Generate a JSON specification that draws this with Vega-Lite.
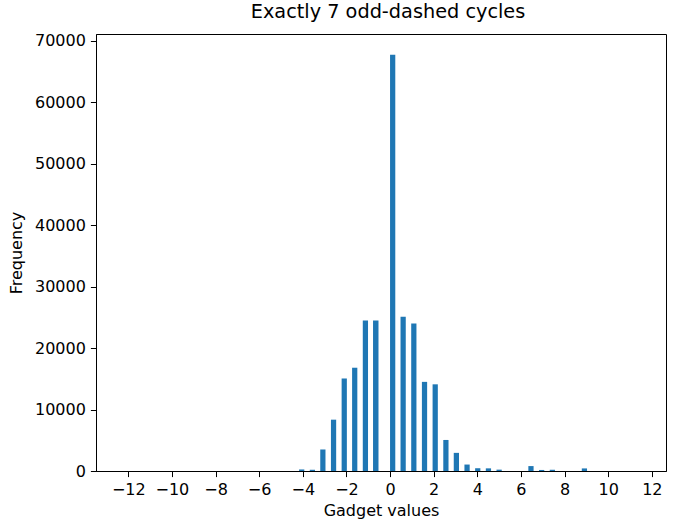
{
  "$schema": "https://vega.github.io/schema/vega-lite/v6.json",
  "width": 570,
  "height": 437,
  "autosize": {"type": "none"},
  "padding": {"left": 96, "top": 34, "right": 14, "bottom": 49},
  "background": "white",
  "title": {"text": "Exactly 7 odd-dashed cycles", "fontSize": 19.3, "fontWeight": "normal", "font": "DejaVu Sans", "color": "#000", "offset": 10, "anchor": "middle", "dx": 7},
  "data": {"values": [
    {"bin_start": -4.17, "bin_end": -3.93, "count": 250},
    {"bin_start": -3.68, "bin_end": -3.44, "count": 200},
    {"bin_start": -3.20, "bin_end": -2.96, "count": 3500},
    {"bin_start": -2.71, "bin_end": -2.47, "count": 8350},
    {"bin_start": -2.22, "bin_end": -1.98, "count": 15050},
    {"bin_start": -1.74, "bin_end": -1.50, "count": 16800},
    {"bin_start": -1.25, "bin_end": -1.01, "count": 24500},
    {"bin_start": -0.78, "bin_end": -0.53, "count": 24500},
    {"bin_start": 0.0, "bin_end": 0.24, "count": 67700},
    {"bin_start": 0.48, "bin_end": 0.72, "count": 25100},
    {"bin_start": 0.97, "bin_end": 1.21, "count": 24000},
    {"bin_start": 1.46, "bin_end": 1.70, "count": 14500},
    {"bin_start": 1.95, "bin_end": 2.19, "count": 14100},
    {"bin_start": 2.44, "bin_end": 2.68, "count": 5050},
    {"bin_start": 2.92, "bin_end": 3.16, "count": 2950},
    {"bin_start": 3.41, "bin_end": 3.65, "count": 1050},
    {"bin_start": 3.90, "bin_end": 4.14, "count": 450},
    {"bin_start": 4.39, "bin_end": 4.63, "count": 430},
    {"bin_start": 4.88, "bin_end": 5.12, "count": 220},
    {"bin_start": 6.34, "bin_end": 6.58, "count": 800},
    {"bin_start": 6.83, "bin_end": 7.07, "count": 170},
    {"bin_start": 7.32, "bin_end": 7.56, "count": 200},
    {"bin_start": 8.79, "bin_end": 9.03, "count": 420}
  ]},
  "mark": {"type": "bar", "color": "#1f77b4", "clip": true},
  "encoding": {
    "x": {
      "field": "bin_start", "type": "quantitative",
      "scale": {"domain": [-13.48, 12.65], "nice": false, "zero": false},
      "axis": {"values": [-12, -10, -8, -6, -4, -2, 0, 2, 4, 6, 8, 10, 12], "title": "Gadget values", "grid": false, "titlePadding": 5}
    },
    "x2": {"field": "bin_end"},
    "y": {
      "field": "count", "type": "quantitative",
      "scale": {"domain": [0, 71090], "nice": false},
      "axis": {"values": [0, 10000, 20000, 30000, 40000, 50000, 60000, 70000], "format": "d", "title": "Frequency", "grid": false, "titlePadding": 10}
    },
    "y2": {"datum": 0}
  },
  "config": {
    "view": {"stroke": "#000", "strokeWidth": 1},
    "axis": {
      "domainColor": "#000", "tickColor": "#000", "tickSize": 5.6, "labelPadding": 5,
      "labelFont": "DejaVu Sans", "labelFontSize": 16, "labelColor": "#000",
      "titleFont": "DejaVu Sans", "titleFontSize": 16, "titleFontWeight": "normal", "titleColor": "#000",
      "labelFlush": false
    }
  }
}
